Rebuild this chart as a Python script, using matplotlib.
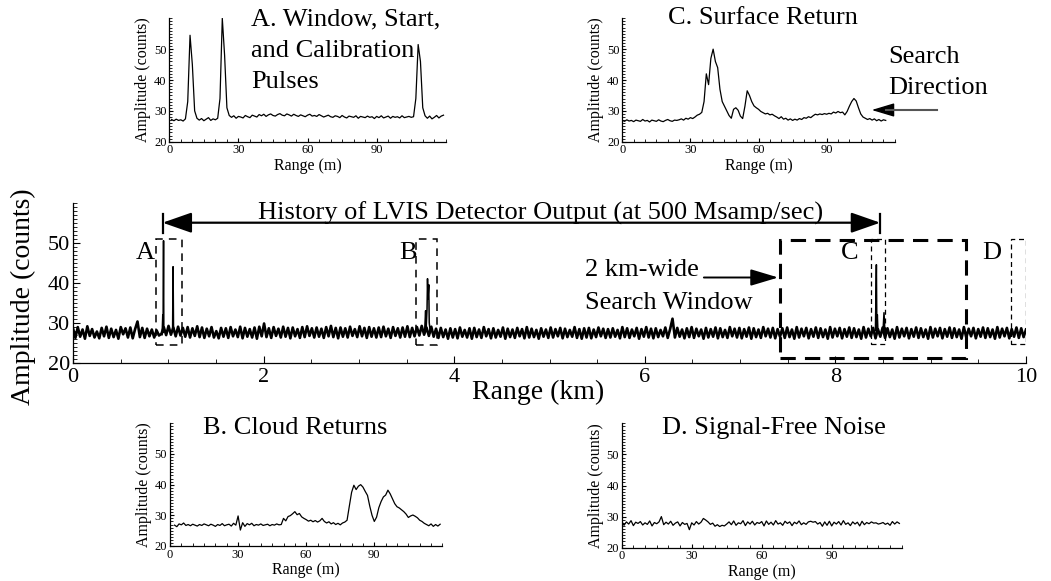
import numpy as np
import matplotlib
matplotlib.use("Agg")
import matplotlib.pyplot as plt
from matplotlib.ticker import MultipleLocator
from matplotlib.patches import Rectangle

plt.rcParams['font.family'] = ['Liberation Serif', 'DejaVu Serif']

# ---------------- data ----------------
# main trace: background detector noise (counts), evenly spaced over 0-10 km
main_range_km = (0.0, 10.0)
main_noise = [
    28.6, 26.2, 28.9, 26.5, 28.3, 26.0, 29.1, 26.7,
    28.4, 26.3, 27.8, 26.1, 28.7, 26.6, 29.0, 26.2,
    28.5, 26.4, 28.2, 26.0, 28.9, 27.1, 28.6, 26.3,
    28.8, 26.1, 28.4, 30.3, 26.4, 28.7, 26.2, 28.5,
    26.6, 28.3, 26.3, 28.1, 26.8, 27.2, 28.9, 26.9,
    29.2, 27.0, 28.8, 26.6, 29.0, 26.8, 28.7, 26.5,
    28.9, 26.3, 28.6, 26.7, 29.1, 26.4, 28.8, 26.2,
    28.5, 26.6, 28.9, 26.3, 27.9, 26.1, 28.7, 26.5,
    28.6, 26.2, 28.9, 26.6, 28.3, 26.4, 29.0, 26.1,
    28.7, 26.5, 28.4, 26.3, 28.8, 26.0, 29.0, 26.6,
    29.8, 26.4, 28.6, 26.2, 28.9, 26.7, 28.5, 26.3,
    29.0, 26.5, 28.7, 26.1, 28.8, 26.6, 28.4, 26.2,
    28.9, 26.4, 29.1, 26.7, 28.6, 26.3, 28.8, 26.5,
    28.5, 26.2, 28.9, 26.6, 29.2, 26.4, 28.7, 26.1,
    28.8, 26.5, 28.6, 26.3, 29.0, 26.7, 28.4, 26.4,
    29.1, 26.6, 28.7, 26.2, 28.9, 26.5, 28.6, 26.3,
    28.8, 26.4, 29.0, 26.6, 28.5, 26.2, 28.9, 26.7,
    28.6, 26.3, 28.8, 26.5, 29.1, 26.4, 28.7, 26.6,
    28.9, 26.8, 29.2, 27.0, 28.8, 26.7, 29.0, 26.5,
    28.5, 26.2, 28.7, 26.4, 28.3, 26.0, 28.6, 26.3,
    28.4, 26.1, 28.8, 26.5, 28.2, 26.3, 28.6, 26.0,
    28.7, 26.4, 28.3, 26.2, 28.9, 26.6, 28.4, 26.1,
    28.6, 26.3, 28.2, 26.5, 28.8, 26.0, 28.5, 26.4,
    28.3, 26.2, 28.7, 26.6, 28.4, 26.1, 28.9, 26.3,
    28.5, 26.4, 28.2, 26.0, 28.6, 26.5, 28.3, 26.2,
    28.8, 26.3, 28.4, 26.6, 28.7, 26.1, 28.5, 26.4,
    28.2, 26.5, 28.9, 26.2, 28.4, 26.0, 28.6, 26.3,
    28.7, 26.1, 28.3, 26.4, 28.8, 26.6, 28.5, 26.2,
    28.4, 26.3, 28.6, 26.5, 28.2, 26.1, 28.9, 26.4,
    28.6, 26.2, 28.3, 26.6, 28.7, 26.0, 28.4, 26.5,
    28.9, 26.3, 28.5, 26.1, 28.6, 26.4, 28.2, 26.6,
    28.8, 26.2, 28.4, 31.0, 26.3, 28.7, 26.5, 28.3,
    26.1, 28.6, 26.4, 28.9, 26.2, 28.5, 26.6, 28.3,
    26.0, 28.7, 26.3, 28.4, 26.5, 28.8, 26.1, 28.6,
    26.4, 28.2, 26.2, 28.9, 26.6, 28.5, 26.3, 28.7,
    26.1, 28.4, 26.5, 28.8, 26.0, 28.6, 26.4, 28.3,
    26.2, 28.9, 26.6, 28.5, 26.3, 28.7, 26.1, 28.4,
    26.5, 28.6, 26.2, 28.8, 26.4, 28.3, 26.0, 28.9,
    26.3, 28.5, 26.6, 28.7, 26.1, 28.4, 26.5, 28.8,
    26.2, 28.6, 26.4, 28.3, 26.0, 28.9, 26.3, 28.5,
    26.6, 28.7, 26.1, 28.4, 26.5, 28.8, 26.2, 28.6,
    26.4, 28.3, 26.0, 28.9, 26.3, 28.5, 26.6, 28.7,
    26.1, 28.4, 26.5, 28.8, 26.2, 28.6, 26.4, 28.3,
    26.0, 28.9, 26.3, 28.5, 26.6, 28.7, 26.1, 28.4,
    26.5, 28.8, 26.2, 28.6, 26.4, 28.3, 26.0, 28.9,
    26.3, 28.5, 26.6, 28.7, 26.1, 28.4, 26.5, 28.8,
    26.2, 28.6, 26.4, 28.3, 26.0, 28.9, 26.3, 28.5,
    26.6, 28.7, 26.1, 28.4, 26.5, 28.8, 26.2, 28.6,
    26.4, 28.3, 26.0, 28.9, 26.3, 28.5, 26.6, 28.7,
    26.1, 28.4, 26.5, 28.8, 26.2, 28.6, 26.4, 28.3,
]
# pulses/returns in the main trace
main_peak_km = [0.935, 0.942, 0.945, 0.950, 0.953, 0.960,
                1.045, 1.050, 1.055,
                3.690, 3.700, 3.705, 3.715, 3.720, 3.725, 3.733, 3.738, 3.750,
                8.420, 8.430, 8.435, 8.440, 8.447,
                8.500, 8.510, 8.520]
main_peak_counts = [27.0, 32.0, 27.5, 50.5, 28.5, 28.0,
                    28.0, 44.0, 28.0,
                    28.0, 33.0, 28.0, 33.5, 41.0, 36.0, 39.5, 30.0, 27.5,
                    28.0, 44.5, 28.0, 32.0, 27.5,
                    28.0, 32.5, 27.5]

# inset A: window, start and calibration pulses (1 m samples from 1 m)
a_start_m = 1
a_counts = [
    27.2, 26.8, 27.3, 26.9, 27.1, 26.7, 27.4, 33.0, 54.5, 45.0, 30.0, 27.6,
    27.0, 27.5, 26.8, 27.3, 27.8, 26.9, 27.4, 27.1, 27.6, 34.0, 60.0, 48.0,
    31.0, 28.5,
    27.9, 28.4, 27.6, 28.2, 28.0, 27.7, 28.5, 28.1, 27.8, 28.6,
    28.3, 28.0, 28.8, 28.4, 28.9, 28.2, 28.7, 29.0, 28.5, 28.3,
    28.8, 29.1, 28.6, 28.4, 29.0, 28.7, 28.3, 28.9, 28.5, 28.2,
    28.7, 28.4, 28.1, 28.6, 28.9, 28.3, 28.5, 28.2, 28.8, 28.4,
    28.0, 28.3, 28.6, 28.1, 27.9, 28.4, 28.2, 27.8, 28.5, 28.0,
    27.7, 28.3, 28.1, 27.9, 28.4, 27.6, 28.2, 28.0, 27.8, 28.3,
    27.9, 28.1, 27.5, 28.2, 27.8, 28.4, 27.7, 28.0, 28.3, 27.6,
    28.2, 27.9, 28.1, 27.7, 28.4, 27.8, 28.0, 28.2, 27.9, 28.1,
    34.0, 51.5, 46.0, 31.0, 28.4,
    27.6, 28.3, 27.4, 27.9, 28.5, 27.7, 28.3, 28.6,
]

# inset C: surface return (1 m samples from 0 m)
c_start_m = 0
c_counts = [
    26.9, 26.6, 27.1, 26.7, 26.9, 26.5, 27.0, 26.8, 26.6, 27.2, 26.7, 26.9,
    26.4, 27.0, 26.8, 26.6, 27.1, 26.7, 26.5, 26.9, 27.2, 26.8, 26.6, 27.0,
    26.9,
    27.1, 27.4, 27.0, 27.6, 27.3, 27.8, 27.5, 28.0, 28.6, 28.9,
    29.5, 33.0, 42.0, 38.5, 47.0, 50.0, 46.0, 44.0, 37.0, 33.0, 31.5, 30.0,
    28.5, 27.6, 30.5, 31.0, 30.2, 28.3, 27.5, 31.5, 36.5, 35.0, 33.0, 31.6,
    31.0, 30.5, 29.8, 29.4, 29.0, 29.2, 28.7, 28.9, 28.4, 28.0, 27.5, 28.1,
    27.3, 27.6, 27.0, 27.4, 26.9, 27.3, 27.0, 27.5, 27.2, 27.8, 27.6, 28.1,
    27.8, 28.4, 28.9, 28.7, 29.0, 28.8, 29.1, 28.9, 29.2, 29.0, 29.6, 29.3,
    29.8, 29.4, 29.6, 28.7, 29.8, 31.5, 33.0, 34.0, 33.2, 31.0, 29.0, 28.0,
    27.6, 27.2, 27.5, 27.0, 27.4, 26.8, 27.2, 26.7, 27.1, 26.9,
]

# inset B: cloud returns (1 m samples from 2 m)
b_start_m = 2
b_counts = [
    26.8, 26.3, 27.2, 26.9, 27.5, 26.7, 27.0, 26.6, 27.1, 26.8, 26.5, 27.0,
    26.7, 27.2, 26.9, 26.6, 27.1, 26.8, 26.4, 27.0, 26.7, 27.3, 26.6, 26.9,
    27.1, 26.5, 27.4, 26.8,
    29.8, 25.2, 27.6, 26.4, 27.3,
    26.9, 27.4, 26.6, 27.0, 26.8, 27.2, 26.7, 26.9, 27.1, 26.6, 27.0, 26.8,
    27.2, 26.9, 27.0,
    29.0, 28.2, 29.6, 29.9, 30.5, 31.2, 30.2, 30.6, 29.5, 29.0, 28.6, 28.1,
    28.4, 27.9, 28.3, 27.8, 28.2, 29.0, 28.0, 27.5, 27.9, 27.2, 27.6, 27.0,
    27.4, 26.9, 27.5, 27.8, 28.4, 33.0, 37.5, 39.8, 38.4, 39.5, 40.0, 39.2,
    37.8, 36.5, 33.0, 30.0, 28.0, 29.4, 32.5, 34.5, 36.0, 36.6, 38.2, 37.0,
    35.4, 33.8, 32.8, 32.4, 31.8, 31.2, 30.4, 29.3, 29.8, 30.1, 29.7, 29.2,
    28.4, 28.0, 27.4, 27.0, 26.6, 27.2, 26.4, 27.0, 26.5, 27.1,
]

# inset D: signal-free noise (1 m samples from 0 m)
d_start_m = 0
d_counts = [
    28.5, 27.2, 28.3, 27.6, 28.7, 27.1, 28.2, 27.8, 28.4, 27.3,
    28.0, 27.5, 28.6, 27.0, 28.1, 27.7, 28.3, 30.0, 27.4, 28.2,
    27.6, 28.5, 27.2, 27.9, 28.3, 27.0, 28.1, 27.5, 27.8, 25.8,
    28.0, 27.3, 28.4, 27.6, 28.2, 29.4, 28.9, 28.3, 27.5, 27.9,
    26.9, 27.4, 26.8, 27.2, 27.0, 27.6, 28.3, 27.4, 28.6, 27.2,
    28.0, 27.7, 28.7, 27.1, 28.3, 27.6, 28.5, 27.3, 28.1, 27.8,
    28.4, 27.0, 28.6, 27.5, 28.2, 27.3, 28.7, 27.6, 28.0, 27.2,
    28.5, 27.8, 28.3, 27.1, 28.2, 27.7, 28.6, 27.4, 28.0, 27.5,
    28.3, 28.5, 28.2, 28.4, 27.6, 28.1, 26.9, 28.3, 27.2, 28.5,
    27.0, 28.2, 27.6, 28.4, 27.3, 28.7, 27.5, 28.0, 27.1, 28.3,
    27.6, 28.2, 27.0, 28.5, 27.4, 28.1, 27.7, 28.3, 27.9, 28.0,
    27.6, 27.8, 28.1, 27.5, 27.9, 27.2, 28.4, 27.6, 28.3, 27.8,
]

main_yticks = [20, 30, 40, 50]
main_xticks = [0, 2, 4, 6, 8, 10]
inset_xticks = [0, 30, 60, 90]
inset_yticks = [20, 30, 40, 50]

# ---------------- figure ----------------
W, H = 1051, 581
fig = plt.figure(figsize=(W / 100, H / 100), dpi=100)


def fr(px_left, px_right, px_top, px_bottom):
    return [px_left / W, 1 - px_bottom / H, (px_right - px_left) / W,
            (px_bottom - px_top) / H]


def style_axes(ax, xt, yt, xminor, yminor, lsize, major_len, minor_len):
    for s in ("top", "right"):
        ax.spines[s].set_visible(False)
    ax.set_xticks(xt)
    ax.set_yticks(yt)
    ax.xaxis.set_minor_locator(MultipleLocator(xminor))
    ax.yaxis.set_minor_locator(MultipleLocator(yminor))
    ax.tick_params(which="major", direction="in", length=major_len, width=0.8,
                   labelsize=lsize, pad=2)
    ax.tick_params(which="minor", direction="in", length=minor_len, width=0.6)
    for s in ("left", "bottom"):
        ax.spines[s].set_linewidth(0.9)


# ---- main axes ----
ax = fig.add_axes(fr(73, 1026, 202.7, 362.7))
x_noise = np.linspace(main_range_km[0], main_range_km[1], len(main_noise))
ax.plot(x_noise, main_noise, color="black", lw=1.9)
# draw each pulse group as its own thin trace
pk_x = np.array(main_peak_km)
pk_y = np.array(main_peak_counts)
breaks = np.where(np.diff(pk_x) > 0.05)[0] + 1
for gx, gy in zip(np.split(pk_x, breaks), np.split(pk_y, breaks)):
    ax.plot(gx, gy, color="black", lw=1.1)
ax.set_xlim(0, 10)
ax.set_ylim(20, 60)
style_axes(ax, main_xticks, main_yticks, 0.5, 1, 16, 5, 3)
ax.tick_params(axis="x", pad=4)

# dashed boxes
box_kw = dict(fill=False, edgecolor="black")
ax.add_patch(Rectangle((0.87, 24.4), 0.27, 26.6, lw=1.1, linestyle=(0, (5, 4)), **box_kw))
ax.add_patch(Rectangle((3.60, 24.4), 0.22, 26.6, lw=1.1, linestyle=(0, (5, 4)), **box_kw))
ax.add_patch(Rectangle((7.42, 21.1), 1.95, 29.5, lw=2.2, linestyle=(0, (5, 3)), **box_kw))
ax.add_patch(Rectangle((8.37, 24.6), 0.15, 26.2, lw=0.9, linestyle=(0, (4, 3)), **box_kw))
ax.add_patch(Rectangle((9.84, 24.6), 0.16, 26.4, lw=0.9, linestyle=(0, (4, 3)), **box_kw))

for lab, xx in (("A", 0.76), ("B", 3.52), ("C", 8.15), ("D", 9.64)):
    ax.text(xx, 47.4, lab, fontsize=19, ha="center", va="center")

# history arrow
ax.annotate("", xy=(0.94, 55.0), xytext=(8.47, 55.0),
            arrowprops=dict(arrowstyle="<|-|>,head_length=1.0,head_width=0.35",
                            mutation_scale=18, lw=1.6, color="black",
                            shrinkA=0, shrinkB=0))
ax.plot([0.94, 0.94], [52.5, 57.3], color="black", lw=1.6)
ax.plot([8.47, 8.47], [52.5, 57.3], color="black", lw=1.6)
ax.text(4.91, 57.4, "History of LVIS Detector Output (at 500 Msamp/sec)",
        fontsize=19, ha="center", va="center")

# search window annotation
ax.text(5.37, 43.2, "2 km-wide", fontsize=19, ha="left", va="center")
ax.text(5.37, 35.0, "Search Window", fontsize=19, ha="left", va="center")
ax.annotate("", xy=(7.40, 41.3), xytext=(6.62, 41.3),
            arrowprops=dict(arrowstyle="-|>,head_length=1.0,head_width=0.3",
                            mutation_scale=17, lw=1.4, color="black",
                            shrinkA=0, shrinkB=0))

fig.text(23 / W, 1 - 297 / H, "Amplitude (counts)", rotation=90, fontsize=20,
         ha="center", va="center")
fig.text(538 / W, 1 - 392 / H, "Range (km)", fontsize=20, ha="center", va="center")


# ---- insets ----
def inset(rect, start, counts):
    a = fig.add_axes(rect)
    xs = start + np.arange(len(counts))
    a.plot(xs, counts, color="black", lw=0.9)
    a.set_xlim(0, 120)
    a.set_ylim(20, 60)
    style_axes(a, inset_xticks, inset_yticks, 5, 1, 9, 3, 2)
    a.set_xlabel("Range (m)", fontsize=11.5, labelpad=1)
    a.set_ylabel("Amplitude (counts)", fontsize=11.5, labelpad=2)
    return a


axA = inset(fr(169.3, 445.8, 18.3, 141.7), a_start_m, a_counts)
axC = inset(fr(622.3, 894.8, 18.3, 141.7), c_start_m, c_counts)
axB = inset(fr(170, 442.4, 423.3, 546), b_start_m, b_counts)
axD = inset(fr(621.7, 901.7, 423.3, 547.7), d_start_m, d_counts)

fig.text(251 / W, 1 - 51 / H, "A. Window, Start,\nand Calibration\nPulses",
         fontsize=19, ha="left", va="center", linespacing=1.55)
fig.text(763 / W, 1 - 18 / H, "C. Surface Return", fontsize=19,
         ha="center", va="center")
fig.text(888 / W, 1 - 72.5 / H, "Search\nDirection", fontsize=19,
         ha="left", va="center", linespacing=1.55)
fig.text(295 / W, 1 - 428 / H, "B. Cloud Returns", fontsize=19,
         ha="center", va="center")
fig.text(774 / W, 1 - 428 / H, "D. Signal-Free Noise", fontsize=19,
         ha="center", va="center")

# search-direction arrow (grey shaft, black head)
fig.add_artist(plt.Line2D([886 / W, 937 / W], [1 - 110 / H, 1 - 110 / H],
                          color="#555555", lw=1.5))
axC.annotate("", xy=(871.7 / W, 1 - 110 / H), xytext=(890 / W, 1 - 110 / H),
             xycoords="figure fraction", textcoords="figure fraction",
             arrowprops=dict(arrowstyle="-|>,head_length=1.0,head_width=0.3",
                             mutation_scale=14, lw=1.0, color="black",
                             shrinkA=0, shrinkB=0),
             annotation_clip=False)

fig.savefig("out.png", dpi=100)
